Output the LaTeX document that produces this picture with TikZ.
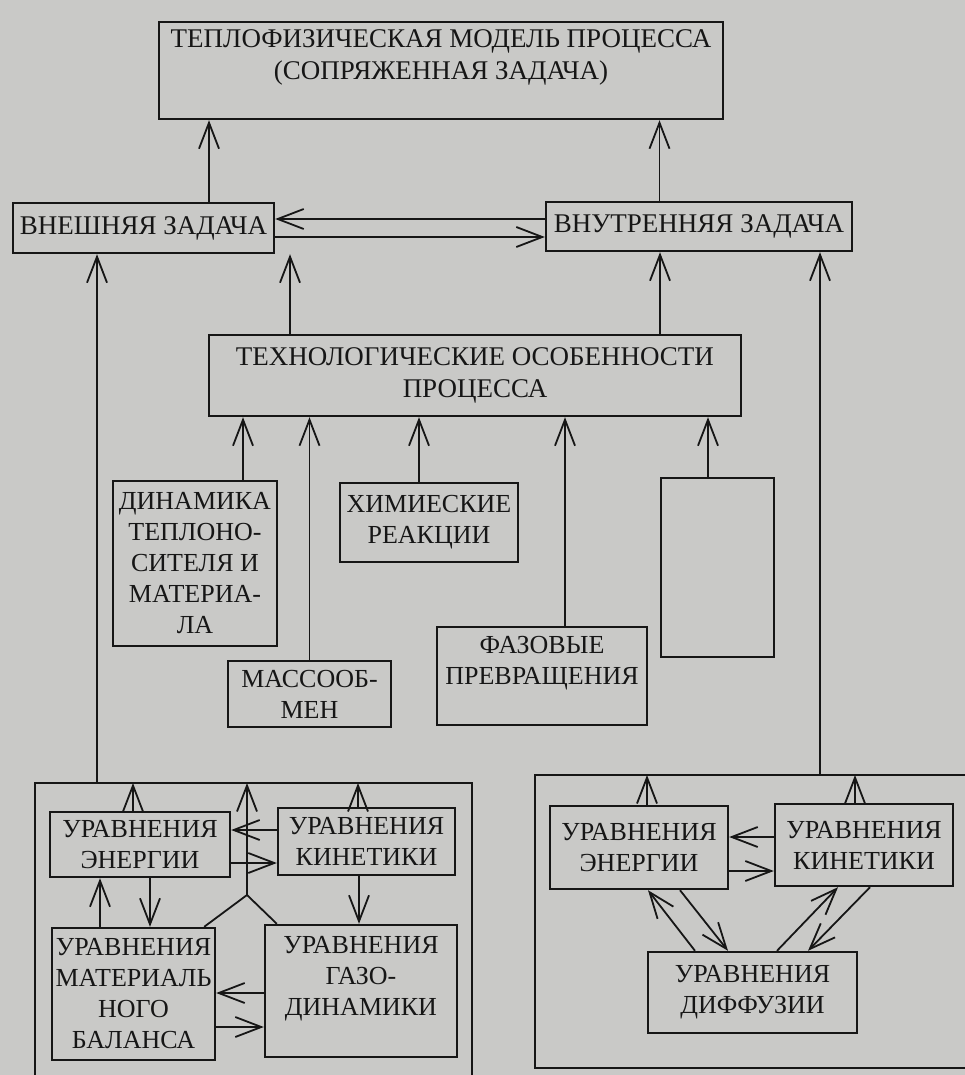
\documentclass[tikz,border=0pt]{standalone}
\usepackage{fontspec}
\setmainfont{Liberation Serif}
\usetikzlibrary{arrows.meta}
\definecolor{paper}{RGB}{201,201,199}
\definecolor{ink}{RGB}{22,22,22}

\begin{document}
\begin{tikzpicture}[x = 1pt, y = -1pt,
        >={Straight Barb[length = 26pt, width = 20pt]},
        box/.style = {draw = ink, line width = 2.4, align = center, inner sep = 0, text = ink, font = \fontsize{26}{31}\selectfont},
        bigbox/.style = {box, font = \fontsize{27}{32}\selectfont},
        link/.style = {draw = ink, line width = 1.8},
        frame/.style = {draw = ink, line width = 1.4}]
            \useasboundingbox (0, 0) rectangle (965, 1075);
            \fill[paper] (0, 0) rectangle (965, 1075);

            \node[bigbox, minimum width = 564, minimum height = 97] (model) at (441, 70.5) {ТЕПЛОФИЗИЧЕСКАЯ МОДЕЛЬ ПРОЦЕССА\\(СОПРЯЖЕННАЯ ЗАДАЧА)\\ \mbox{}};
            \node[bigbox, minimum width = 261, minimum height = 50] (ext) at (143.5, 228) {ВНЕШНЯЯ ЗАДАЧА};
            \node[bigbox, minimum width = 306, minimum height = 49] (int) at (699, 226.5) {ВНУТРЕННЯЯ ЗАДАЧА};
            \node[bigbox, minimum width = 532, minimum height = 81] (tech) at (475, 375.5) {ТЕХНОЛОГИЧЕСКИЕ ОСОБЕННОСТИ\\ПРОЦЕССА};

            \draw[link, ->] ([xshift = 65.5]ext.north) -- ([xshift = 65.5]ext.north |- model.south);
            \draw[link, ->] ([xshift = -39.5]int.north) -- ([xshift = -39.5]int.north |- model.south);
            \draw[link, ->] ([yshift = 7.5]int.west) -- ([yshift = 7.5]int.west -| ext.east);
            \draw[link, ->] ([yshift = -9]ext.east) -- ([yshift = -9]ext.east -| int.west);
            \draw[link, ->] ([xshift = -185]tech.north) -- ([xshift = -185]tech.north |- ext.south);
            \draw[link, ->] ([xshift = 185]tech.north) -- ([xshift = 185]tech.north |- int.south);

            \node[box, minimum width = 164, minimum height = 165] (dyn) at (195, 563.5) {ДИНАМИКА\\ТЕПЛОНО-\\СИТЕЛЯ И\\МАТЕРИА-\\ЛА};
            \node[box, minimum width = 178, minimum height = 79] (chem) at (429, 522.5) {ХИМИЕСКИЕ\\РЕАКЦИИ};
            \node[box, line width = 1.4, minimum width = 113, minimum height = 179] (blank) at (717.5, 567.5) {};
            \node[box, minimum width = 210, minimum height = 98] (phase) at (542, 676) {ФАЗОВЫЕ\\ПРЕВРАЩЕНИЯ\\ \mbox{}};
            \node[box, minimum width = 163, minimum height = 66] (mass) at (309.5, 694) {МАССООБ-\\МЕН};

            \draw[link, ->] ([xshift = 48]dyn.north) -- ([xshift = 48]dyn.north |- tech.south);
            \draw[link, ->] (mass.north) -- (mass.north |- tech.south);
            \draw[link, ->] ([xshift = -10]chem.north) -- ([xshift = -10]chem.north |- tech.south);
            \draw[link, ->] ([xshift = 23]phase.north) -- ([xshift = 23]phase.north |- tech.south);
            \draw[link, ->] ([xshift = -9.5]blank.north) -- ([xshift = -9.5]blank.north |- tech.south);

            \draw[frame] (35, 1090) -- (35, 783) -- (472, 783) -- (472, 1090);
            \coordinate (lgtop) at (97, 783);
            \coordinate (junc) at (247, 895);
            \node[box, minimum width = 180, minimum height = 65] (len) at (140, 844.5) {УРАВНЕНИЯ\\ЭНЕРГИИ};
            \node[box, minimum width = 177, minimum height = 67] (lkin) at (366.5, 841.5) {УРАВНЕНИЯ\\КИНЕТИКИ};
            \node[box, minimum width = 163, minimum height = 132] (lmat) at (133.5, 994) {УРАВНЕНИЯ\\МАТЕРИАЛЬ\\НОГО\\БАЛАНСА};
            \node[box, minimum width = 192, minimum height = 132] (lgas) at (361, 991) {УРАВНЕНИЯ\\ГАЗО-\\ДИНАМИКИ\\ \mbox{}};

            \draw[link, ->] (lgtop) -- (lgtop |- ext.south);
            \draw[link, ->] ([xshift = -7]len.north) -- ([xshift = -7]len.north |- lgtop);
            \draw[link, ->] ([xshift = -8.5]lkin.north) -- ([xshift = -8.5]lkin.north |- lgtop);
            \draw[link, ->] ([yshift = 11.5]lkin.west) -- ([yshift = 11.5]lkin.west -| len.east);
            \draw[link, ->] ([yshift = -21.5]lkin.west -| len.east) -- ([yshift = -21.5]lkin.west);
            \draw[link, ->] ([xshift = -33.5]lmat.north) -- ([xshift = -33.5]lmat.north |- len.south);
            \draw[link, ->] ([xshift = 10]len.south) -- ([xshift = 10]len.south |- lmat.north);
            \draw[link, ->] ([xshift = -7.5]lkin.south) -- ([xshift = -7.5]lkin.south |- lgas.north);
            \draw[link, ->] ([yshift = -2]lgas.west) -- ([yshift = -2]lgas.west -| lmat.east);
            \draw[link, ->] ([yshift = -36]lgas.west -| lmat.east) -- ([yshift = -36]lgas.west);
            \draw[link] ([xshift = -12]lmat.north east) -- (junc) -- ([xshift = 13]lgas.north west);
            \draw[link, ->] (junc) -- (junc |- lgtop);

            \draw[frame] (975, 775) -- (535, 775) -- (535, 1068) -- (975, 1068);
            \coordinate (rgtop) at (820, 775);
            \node[box, minimum width = 178, minimum height = 83] (ren) at (639, 847.5) {УРАВНЕНИЯ\\ЭНЕРГИИ};
            \node[box, minimum width = 178, minimum height = 82] (rkin) at (864, 845) {УРАВНЕНИЯ\\КИНЕТИКИ};
            \node[box, minimum width = 209, minimum height = 81] (rdif) at (752.5, 992.5) {УРАВНЕНИЯ\\ДИФФУЗИИ};

            \draw[link, ->] (rgtop) -- (rgtop |- int.south);
            \draw[link, ->] ([xshift = 8]ren.north) -- ([xshift = 8]ren.north |- rgtop);
            \draw[link, ->] ([xshift = -9]rkin.north) -- ([xshift = -9]rkin.north |- rgtop);
            \draw[link, ->] ([yshift = 8]rkin.west) -- ([yshift = 8]rkin.west -| ren.east);
            \draw[link, ->] ([yshift = -26]rkin.west -| ren.east) -- ([yshift = -26]rkin.west);
            \draw[link, ->] ([xshift = -57.5]rdif.north) -- ([xshift = 9]ren.south);
            \draw[link, ->] ([xshift = 41]ren.south) -- ([xshift = -24.5]rdif.north);
            \draw[link, ->] ([xshift = 24.5]rdif.north) -- ([xshift = -26]rkin.south);
            \draw[link, ->] ([xshift = 6]rkin.south) -- ([xshift = 55.5]rdif.north);
        \end{tikzpicture}
\end{document}
